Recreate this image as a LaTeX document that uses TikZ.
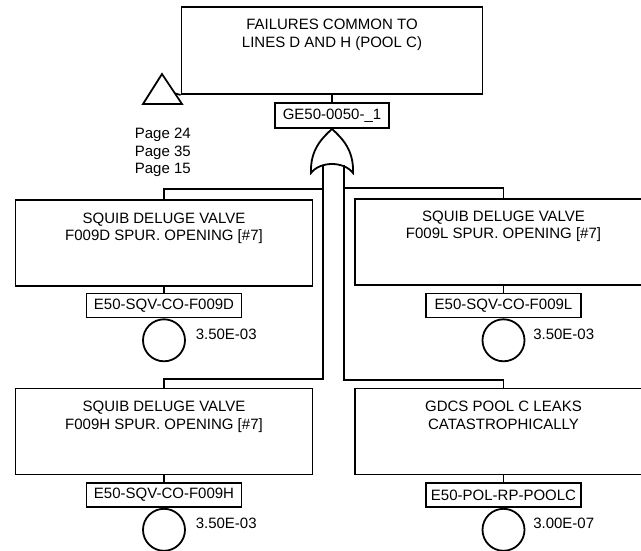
\documentclass[tikz,border=0pt]{standalone}
\usepackage{fontspec}
\setmainfont{Liberation Sans}
\usetikzlibrary{positioning}

\begin{document}
\begin{tikzpicture}[line width=1.8pt, x=1pt, y=-1pt,
  every node/.style={font=\fontsize{15}{17.5}\selectfont},
  event/.style={draw, rectangle, minimum width=297pt, minimum height=86pt, inner sep=0pt},
  eventtext/.style={align=center, inner sep=0pt},
  tag/.style={draw, rectangle, minimum width=155pt, minimum height=24pt, inner sep=0pt},
  basic/.style={draw, circle, minimum size=42pt, inner sep=0pt},
  prob/.style={inner sep=0pt, yshift=6pt}]
  \useasboundingbox (0,0) rectangle (641,551);
  \clip (0,0) rectangle (641,551);

  % top event and its gate
  \node[event, minimum width=301pt, minimum height=87pt] (top) at (332,50.5) {};
  \node[eventtext, below=12.5pt of top.north] {FAILURES COMMON TO\\LINES D AND H (POOL C)};
  \node[tag, minimum width=114pt, minimum height=25pt] (gateid) at (332,115.5) {GE50-0050-\_1};
  \coordinate (gateout) at (332,129);
  \draw[fill=white] (311,173) .. controls (310,150) and (322,138) .. (gateout)
    .. controls (342,138) and (354,150) .. (353,173)
    .. controls (344,161) and (320,161) .. cycle;
  \coordinate (busL) at (323,165);
  \coordinate (busR) at (344,165);
  \draw (top.south) -- (gateid.north);

  % transfer in
  \draw[line join=miter] (143,104) -- (162,74) -- (182,104) -- cycle;
  \coordinate (xfer) at (175,93.5);
  \draw (xfer) -- (top.south west);
  \node[anchor=north west, align=left, inner sep=0pt] (pages) at (134,127.5) {Page 24\\Page 35\\Page 15};

  % inputs, left column
  \node[event] (L1) at (164,243) {};
  \node[eventtext, below=13pt of L1.north] {SQUIB DELUGE VALVE\\F009D SPUR. OPENING [\#7]};
  \node[tag] (idL1) at (164,305.5) {E50-SQV-CO-F009D};
  \node[basic, below=0pt of idL1] (evL1) {};
  \node[prob, right=9pt of evL1.east] (pL1) {3.50E-03};

  \node[event] (L2) at (164,431.5) {};
  \node[eventtext, below=13pt of L2.north] {SQUIB DELUGE VALVE\\F009H SPUR. OPENING [\#7]};
  \node[tag] (idL2) at (164,495) {E50-SQV-CO-F009H};
  \node[basic, below=0pt of idL2] (evL2) {};
  \node[prob, right=9pt of evL2.east] (pL2) {3.50E-03};

  % inputs, right column
  \node[event] (R1) at (503.5,242) {};
  \node[eventtext, below=12pt of R1.north] {SQUIB DELUGE VALVE\\F009L SPUR. OPENING [\#7]};
  \node[tag] (idR1) at (503.5,305.5) {E50-SQV-CO-F009L};
  \node[basic, below=0pt of idR1] (evR1) {};
  \node[prob, right=7pt of evR1.east] (pR1) {3.50E-03};

  \node[event] (R2) at (503.5,431.5) {};
  \node[eventtext, below=13pt of R2.north] {GDCS POOL C LEAKS\\CATASTROPHICALLY};
  \node[tag] (idR2) at (503.5,495) {E50-POL-RP-POOLC};
  \node[basic, below=0pt of idR2] (evR2) {};
  \node[prob, right=7pt of evR2.east] (pR2) {3.00E-07};

  % gate output bus
  \draw (L1.north) -- ++(0,-10) -| (busL);
  \draw (L2.north) -- ++(0,-9) -| (busL);
  \draw (R1.north) -- ++(0,-10) -| (busR);
  \draw (R2.north) -- ++(0,-8) -| (busR);
  \foreach \e in {L1,L2,R1,R2}
    \draw (\e.south) -- (id\e.north);
\end{tikzpicture}
\end{document}
